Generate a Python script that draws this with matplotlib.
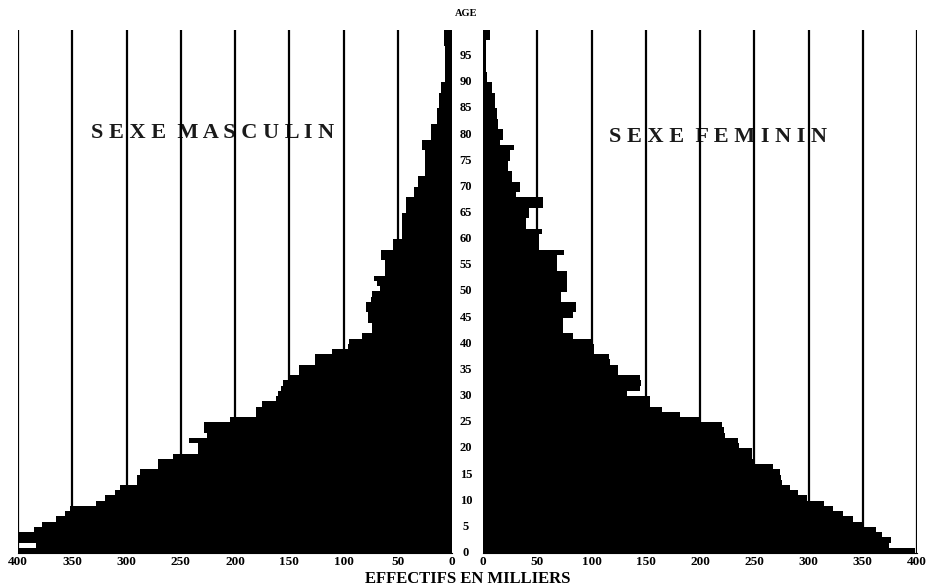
import matplotlib
matplotlib.use("Agg")
import matplotlib.pyplot as plt
import matplotlib.transforms as mtransforms
import numpy as np

# ages 0..99, effectifs en milliers
ages = np.arange(100)
hommes = [400, 383, 400, 399, 385, 378, 365, 357, 352, 328,
          320, 311, 306, 290, 290, 288, 271, 271, 257, 234,
          234, 242, 226, 229, 229, 205, 181, 181, 175, 162,
          160, 158, 156, 151, 141, 141, 126, 126, 111, 96,
          95, 83, 74, 74, 77, 77, 79, 79, 75, 74,
          66, 69, 72, 62, 62, 62, 65, 65, 54, 54,
          46, 46, 46, 46, 46, 42, 42, 42, 35, 35,
          31, 31, 25, 25, 25, 25, 25, 28, 28, 19,
          19, 19, 14, 14, 14, 12, 12, 12, 10, 10,
          6, 6, 6, 6, 6, 6, 6, 7, 7, 7]
femmes = [398, 374, 376, 368, 362, 351, 341, 332, 323, 314,
          299, 290, 283, 276, 275, 274, 267, 250, 248, 248,
          236, 235, 223, 222, 220, 199, 182, 165, 154, 154,
          133, 145, 146, 145, 124, 124, 117, 116, 102, 102,
          101, 83, 74, 74, 74, 83, 86, 86, 72, 72,
          77, 77, 77, 77, 68, 68, 68, 75, 52, 52,
          52, 54, 40, 40, 42, 42, 55, 55, 30, 34,
          34, 27, 27, 23, 23, 25, 25, 29, 16, 18,
          18, 14, 14, 13, 13, 11, 11, 11, 8, 8,
          4, 4, 3, 3, 3, 3, 3, 3, 6, 6]
graduations = [0, 50, 100, 150, 200, 250, 300, 350, 400]
age_labels = list(range(0, 100, 5))

W, H = 926, 588
fig = plt.figure(figsize=(W / 100, H / 100), dpi=100)
fig.patch.set_facecolor("white")

serif = "Liberation Serif"
bas, haut = 35 / H, 523 / H
ax_h = fig.add_axes([18 / W, bas, 434 / W, haut])
ax_f = fig.add_axes([483 / W, bas, 434 / W, haut])

for ax, valeurs in [(ax_h, hommes), (ax_f, femmes)]:
    ax.barh(ages, valeurs, height=1, align="edge", color="black",
            edgecolor="none", zorder=3)
    for g in graduations[1:]:
        ax.axvline(g, color="black", lw=1.6, zorder=2)
    ax.set_ylim(0, 100)
    ax.set_yticks([])
    ax.set_xticks(graduations)
    ax.set_xticklabels([str(g) for g in graduations], fontfamily=serif,
                       fontweight="bold", fontsize=9.5)
    ax.tick_params(axis="x", length=0, pad=2)
    for s in ["top", "left", "right"]:
        ax.spines[s].set_visible(False)
    ax.spines["bottom"].set_linewidth(0.8)
    ax.set_facecolor("none")

ax_h.set_xlim(400, 0)
ax_f.set_xlim(0, 400)

# ages au centre
trans = mtransforms.blended_transform_factory(fig.transFigure, ax_f.transData)
for a in age_labels:
    ax_f.text(466 / W, a, str(a), transform=trans, ha="center", va="center",
              fontfamily=serif, fontweight="bold", fontsize=9, clip_on=False)
fig.text(466 / W, 1 - 13 / H, "AGE", ha="center", va="center",
         fontfamily=serif, fontweight="bold", fontsize=7.5)

fig.text(468 / W, 1 - 579 / H, "EFFECTIFS EN MILLIERS", ha="center",
         va="center", fontfamily=serif, fontweight="bold", fontsize=12)


def espace(txt):
    return " ".join(txt).replace("   ", "  ")


ax_h.text(213 / W, 1 - 133 / H, espace("SEXE MASCULIN"), transform=fig.transFigure,
          ha="center", va="center", fontfamily=serif, fontweight="bold",
          fontsize=16, color="#1a1a1a", zorder=1)
ax_f.text(718 / W, 1 - 137 / H, espace("SEXE FEMININ"), transform=fig.transFigure,
          ha="center", va="center", fontfamily=serif, fontweight="bold",
          fontsize=16, color="#1a1a1a", zorder=1)

fig.savefig("out.png", dpi=100)
